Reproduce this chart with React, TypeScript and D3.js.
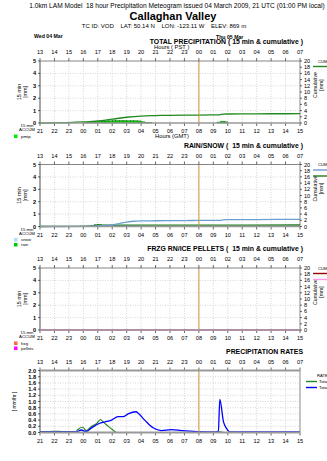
import React from "react";
import * as d3 from "d3";

const W = 327;
const H = 461;
const X0 = 40;
const X1 = 300;
const PH = 62;
const FONT = "'Liberation Sans', Arial, sans-serif";

const PST_LABELS = ["13", "14", "15", "16", "17", "18", "19", "20", "21", "22", "23", "00", "01", "02", "03", "04", "05", "06", "07"];
const GMT_LABELS = ["21", "22", "23", "00", "01", "02", "03", "04", "05", "06", "07", "08", "09", "10", "11", "12", "13", "14", "15"];
const NOW_HOUR = 11; // 08 GMT marker

// hours after 21 GMT, value
const pmtpCum: [number, number][] = [
  [0, 0], [1, 0.07], [2, 0.15], [3, 0.35], [4, 0.65], [5, 1.25], [6, 1.85], [7, 2.25], [8, 2.4],
  [9, 2.48], [10, 2.52], [11, 2.56], [12, 2.6], [12.4, 2.65], [12.7, 2.85], [13, 2.9], [14, 2.95], [16, 2.98], [18, 3.0],
];
const pmtpBars: [number, number][] = [
  [3, 0.03], [3.25, 0.04], [3.5, 0.05], [3.75, 0.08], [4, 0.12], [4.25, 0.15], [4.5, 0.17], [4.75, 0.18],
  [5, 0.19], [5.25, 0.2], [5.5, 0.2], [5.75, 0.2], [6, 0.19], [6.25, 0.19], [6.5, 0.18], [6.75, 0.17],
  [7, 0.1], [7.25, 0.06], [7.5, 0.03], [12.25, 0.08], [12.5, 0.15], [12.75, 0.1],
];
const snowCum: [number, number][] = [
  [0, 0], [3, 0.02], [3.5, 0.08], [4, 0.2], [4.5, 0.35], [5, 0.55], [5.5, 0.95], [6, 1.4], [6.5, 1.7],
  [7, 1.8], [8, 1.85], [9, 1.9], [10, 1.92], [11, 1.95], [12, 1.97], [12.4, 2.0], [12.7, 2.15], [13, 2.2], [15, 2.25], [18, 2.3],
];
const rainCum: [number, number][] = [
  [0, 0], [2, 0.03], [3, 0.1], [3.5, 0.2], [4, 0.35], [4.5, 0.42], [5, 0.45], [12, 0.46], [18, 0.48],
];
const rainBars: [number, number][] = [
  [3.5, 0.05], [3.75, 0.15], [4, 0.18], [4.25, 0.12], [4.5, 0.05],
];
const snowBars: [number, number][] = [
  [4.5, 0.05], [4.75, 0.07], [5, 0.08], [5.25, 0.09], [5.5, 0.09], [5.75, 0.08], [6, 0.08],
  [6.25, 0.07], [6.5, 0.06], [6.75, 0.05], [7, 0.04], [7.25, 0.03],
];
const frzgCum: [number, number][] = [[0, 0], [18, 0]];
const pelletsCum: [number, number][] = [[0, 0], [6, 0], [6.1, 0.02], [18, 0.02]];

const rateTotal: [number, number][] = [
  [0, 0.02], [1, 0.02], [2, 0.02], [2.5, 0.02], [2.85, 0.08], [3.2, 0.03], [3.55, 0.14], [4.1, 0.29],
  [4.5, 0.34], [4.95, 0.4], [5.4, 0.51], [5.75, 0.51], [6.1, 0.6], [6.65, 0.67], [6.8, 0.62], [7.25, 0.4],
  [7.8, 0.16], [8.4, 0.06], [9.1, 0.09], [9.8, 0.06], [10.9, 0.03], [12.2, 0.02], [12.35, 0.05],
  [12.45, 1.07], [12.7, 0.35], [12.9, 0.14], [13.15, 0.02], [18, 0.02],
];
const rateRain: [number, number][] = [
  [0, 0.02], [1, 0.04], [1.5, 0.03], [2.5, 0.02], [2.6, 0.09], [2.95, 0.17], [3.2, 0.06], [3.55, 0.19],
  [3.9, 0.28], [4.2, 0.42], [4.35, 0.35], [4.7, 0.21], [5.05, 0.08], [5.3, 0], [12.3, 0], [12.45, 0.03], [12.7, 0], [18, 0],
];

const LEFT_TICKS = [0, 1, 2, 3, 4, 5];
const RIGHT_TICKS = [0, 2, 4, 6, 8, 10, 12, 14, 16, 18, 20];
const RATE_TICKS = [0, 0.2, 0.4, 0.6, 0.8, 1.0, 1.2, 1.4, 1.6, 1.8, 2.0];

const x = d3.scaleLinear().domain([0, 18]).range([X0, X1]);
const hours = d3.range(19);

type Series = { data: [number, number][]; color: string; width: number };
type Legend = { color: string; label: string };

function Panel(props: {
  top: number;
  title: string;
  leftMax: number;
  leftTicks: number[];
  leftFmt: (v: number) => string;
  right: boolean;
  lines: Series[];
  bars?: { data: [number, number][]; color: string; stroke: string }[];
  squares?: Legend[];
  rightLegend: { title: string; colors: string[]; labels?: string[] };
  rate?: boolean;
}) {
  const { top, title, leftMax, leftTicks, leftFmt, right, lines, bars = [], squares = [], rightLegend, rate } = props;
  const bottom = top + PH;
  const yL = d3.scaleLinear().domain([0, leftMax]).range([bottom, top]);
  const yR = d3.scaleLinear().domain([0, 20]).range([bottom, top]);
  const yS = rate ? yL : yR;
  const line = d3.line<[number, number]>().x((d) => x(d[0])).y((d) => yS(d[1])).curve(d3.curveMonotoneX);
  const mid = (top + bottom) / 2;

  return (
    <g fontFamily={FONT}>
      <text x={303} y={top - 17} textAnchor="end" fontSize={6.9} fontWeight="bold" xmlSpace="preserve">{title}</text>
      {/* grid */}
      {hours.slice(1, 18).map((h) => (
        <line key={"v" + h} x1={x(h)} x2={x(h)} y1={top} y2={bottom} stroke="#bbb" strokeWidth={0.6} strokeDasharray="1,1.5" />
      ))}
      {leftTicks.slice(1, -1).map((t) => (
        <line key={"h" + t} x1={X0} x2={X1} y1={yL(t)} y2={yL(t)} stroke="#bbb" strokeWidth={0.6} strokeDasharray="1,1.5" />
      ))}
      {/* top axis PST, bottom axis GMT */}
      {hours.map((h) => (
        <g key={"t" + h}>
          <line x1={x(h)} x2={x(h)} y1={top} y2={top - 3} stroke="#000" strokeWidth={0.6} />
          <text x={x(h)} y={top - 7} textAnchor="middle" fontSize={5.6}>{PST_LABELS[h]}</text>
          <line x1={x(h)} x2={x(h)} y1={bottom} y2={bottom + 3} stroke="#000" strokeWidth={0.6} />
          <text x={x(h)} y={bottom + 10} textAnchor="middle" fontSize={5.6}>{GMT_LABELS[h]}</text>
        </g>
      ))}
      {/* 15 min bars */}
      {bars.map((b, i) =>
        b.data.map((d) => (
          <rect key={i + "-" + d[0]} x={x(d[0])} width={x(0.25) - x(0)} y={yL(d[1])} height={yL(0) - yL(d[1])}
            fill={b.color} stroke={b.stroke} strokeWidth={0.4} />
        ))
      )}
      {/* cumulative / rate lines */}
      {lines.map((s, i) => (
        <path key={"l" + i} d={line(s.data) ?? ""} fill="none" stroke={s.color} strokeWidth={s.width} />
      ))}
      <line x1={x(NOW_HOUR)} x2={x(NOW_HOUR)} y1={top} y2={bottom} stroke="#cc9933" strokeWidth={1} />
      {/* frame */}
      <line x1={X0} x2={X0} y1={top} y2={bottom} stroke="#000" strokeWidth={0.7} />
      <line x1={X1} x2={X1} y1={top} y2={bottom} stroke="#555" strokeWidth={0.7} />
      <line x1={X0} x2={X1} y1={top} y2={top} stroke={rate ? "#999" : "#666"} strokeWidth={rate ? 2.2 : 0.8} />
      <line x1={X0} x2={X1} y1={bottom} y2={bottom} stroke="#999" strokeWidth={rate ? 2.2 : 1.4} />
      {/* left axis */}
      {leftTicks.map((t) => (
        <g key={"yl" + t}>
          <line x1={X0 - 2} x2={X0} y1={yL(t)} y2={yL(t)} stroke="#000" strokeWidth={0.6} />
          <text x={X0 - 4} y={yL(t) + 2} textAnchor="end" fontSize={5.6} fontWeight="bold">{leftFmt(t)}</text>
        </g>
      ))}
      {rate ? (
        <text transform={`translate(16,${mid}) rotate(-90)`} textAnchor="middle" fontSize={5}>[ mm/hr ]</text>
      ) : (
        <g>
          <text transform={`translate(21,${mid}) rotate(-90)`} textAnchor="middle" fontSize={5.5}>15 min</text>
          <text transform={`translate(27,${mid}) rotate(-90)`} textAnchor="middle" fontSize={5.5}>[mm]</text>
          <text x={27} y={bottom + 4} textAnchor="middle" fontSize={4.3}>15 min</text>
          <text x={27} y={bottom + 8} textAnchor="middle" fontSize={4.3}>ACCUM</text>
        </g>
      )}
      {squares.map((s, i) => (
        <g key={"sq" + i}>
          <rect x={14} y={bottom + 11.5 + i * 5} width={3.5} height={3.5} fill={s.color} />
          <text x={21} y={bottom + 14.8 + i * 5} fontSize={4.3}>{s.label}</text>
        </g>
      ))}
      {/* right axis */}
      {right && (
        <g>
          {RIGHT_TICKS.map((t) => (
            <g key={"yr" + t}>
              <line x1={X1} x2={X1 + 2} y1={yR(t)} y2={yR(t)} stroke="#000" strokeWidth={0.6} />
              <text x={X1 + 4} y={yR(t) + 2} fontSize={5.6}>{t}</text>
            </g>
          ))}
          <text transform={`translate(317,${mid - 7}) rotate(-90)`} textAnchor="middle" fontSize={5.2}>Cumulative</text>
          <text transform={`translate(322.5,${mid - 7}) rotate(-90)`} textAnchor="middle" fontSize={5.2}>[mm]</text>
        </g>
      )}
      {/* right legend */}
      <text x={rate ? 317 : 318} y={rate ? top + 6 : top + 1.5} fontSize={4.2}>{rightLegend.title}</text>
      {rightLegend.colors.map((c, i) => (
        <g key={"rl" + i}>
          <line x1={rate ? 306 : 313} x2={rate ? 317 : 327} y1={(rate ? top + 11 : top + 5.5) + i * 6} y2={(rate ? top + 11 : top + 5.5) + i * 6}
            stroke={c} strokeWidth={1.4} />
          {rightLegend.labels && (
            <text x={319} y={(rate ? top + 12.5 : top + 7) + i * 6} fontSize={4.3}>{rightLegend.labels[i]}</text>
          )}
        </g>
      ))}
    </g>
  );
}

export default function App() {
  return (
    <svg width={W} height={H} viewBox={`0 0 ${W} ${H}`} style={{ position: "absolute", left: 0, top: 0, background: "#fff" }}>
      <rect width={W} height={H} fill="#fff" />
      <g fontFamily={FONT}>
        <text x={177} y={7.5} textAnchor="middle" fontSize={6.6} xmlSpace="preserve">
          {"1.0km LAM Model  18 hour Precipitation Meteogram issued 04 March 2009, 21 UTC (01:00 PM local)"}
        </text>
        <text x={173} y={20} textAnchor="middle" fontSize={11} fontWeight="bold">Callaghan Valley</text>
        <text x={164} y={27.5} textAnchor="middle" fontSize={6} xmlSpace="preserve">
          {"TC ID: VOD    LAT: 50.14 N    LON: -123.11 W    ELEV: 869 m"}
        </text>
        <text x={34} y={38} fontSize={5.2} fontWeight="bold">Wed 04 Mar</text>
        <text x={216} y={38.5} fontSize={5.2} fontWeight="bold">Thu 05 Mar</text>
        <text x={154} y={48.5} fontSize={5.8}>Hours ( PST )</text>
        <text x={155} y={138} fontSize={5.8}>Hours (GMT)</text>
      </g>
      <Panel
        top={61}
        title="TOTAL PRECIPITATION ( 15 min & cumulative )"
        leftMax={5}
        leftTicks={LEFT_TICKS}
        leftFmt={(v) => String(v)}
        right
        bars={[{ data: pmtpBars, color: "#00cc00", stroke: "#116611" }]}
        lines={[{ data: pmtpCum, color: "#1f8a1f", width: 1.3 }]}
        squares={[{ color: "#00ee00", label: "pmtp" }]}
        rightLegend={{ title: "CUM", colors: ["#1f8a1f"] }}
      />
      <Panel
        top={164.5}
        title="RAIN/SNOW (  15 min & cumulative )"
        leftMax={5}
        leftTicks={LEFT_TICKS}
        leftFmt={(v) => String(v)}
        right
        bars={[
          { data: rainBars, color: "#22aa22", stroke: "#116611" },
          { data: snowBars, color: "#bfe3f7", stroke: "#8fc3e0" },
        ]}
        lines={[
          { data: rainCum, color: "#1f7a1f", width: 1.3 },
          { data: snowCum, color: "#6a9fcf", width: 1.3 },
        ]}
        squares={[{ color: "#aee0f8", label: "snow" }, { color: "#00cc00", label: "rain" }]}
        rightLegend={{ title: "CUM", colors: ["#6a9fcf", "#1f7a1f"] }}
      />
      <Panel
        top={268}
        title="FRZG RN/ICE PELLETS (  15 min & cumulative )"
        leftMax={5}
        leftTicks={LEFT_TICKS}
        leftFmt={(v) => String(v)}
        right
        lines={[
          { data: frzgCum, color: "#990000", width: 1.2 },
          { data: pelletsCum, color: "#ff77ee", width: 1.6 },
        ]}
        squares={[{ color: "#ff6644", label: "frzg" }, { color: "#ff00ff", label: "pellets" }]}
        rightLegend={{ title: "CUM", colors: ["#990000", "#ff99ee"] }}
      />
      <Panel
        top={370.5}
        title="PRECIPITATION RATES"
        leftMax={2}
        leftTicks={RATE_TICKS}
        leftFmt={(v) => v.toFixed(1)}
        right={false}
        rate
        lines={[
          { data: rateRain, color: "#228822", width: 1.2 },
          { data: rateTotal, color: "#0000ff", width: 1.3 },
        ]}
        rightLegend={{ title: "RATE", colors: ["#228822", "#0000ff"], labels: ["Total", "Total"] }}
      />
    </svg>
  );
}
